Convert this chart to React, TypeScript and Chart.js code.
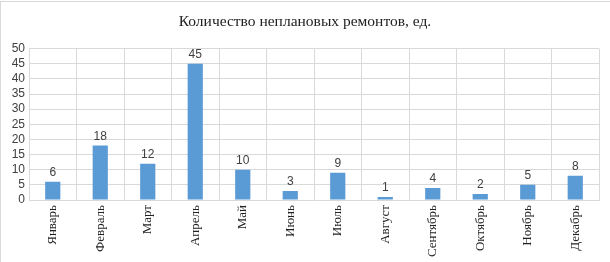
import React, { useEffect, useRef } from "react";
import { Chart, registerables } from "chart.js";

Chart.register(...registerables);

const months = ["Январь", "Февраль", "Март", "Апрель", "Май", "Июнь", "Июль", "Август", "Сентябрь", "Октябрь", "Ноябрь", "Декабрь"];
const repairs = [6, 18, 12, 45, 10, 3, 9, 1, 4, 2, 5, 8];
const yMin = 0;
const yMax = 50;
const yStep = 5;
const titleText = "Количество неплановых ремонтов, ед.";

const labelPlugin = {
  id: "barLabels",
  afterDatasetsDraw(chart: any) {
    const ctx = chart.ctx;
    const meta = chart.getDatasetMeta(0);
    ctx.save();
    ctx.font = "12px 'Liberation Sans', Arial, sans-serif";
    ctx.fillStyle = "#404040";
    ctx.textAlign = "center";
    ctx.textBaseline = "bottom";
    meta.data.forEach((el: any, i: number) => {
      ctx.fillText(String(chart.data.datasets[0].data[i]), el.x, el.y - 3);
    });
    ctx.restore();
  },
};

export default function App() {
  const ref = useRef<HTMLCanvasElement | null>(null);
  useEffect(() => {
    document.body.style.margin = "0";
    const chart = new Chart(ref.current!, {
      type: "bar",
      data: {
        labels: months,
        datasets: [
          {
            data: repairs,
            backgroundColor: "#5B9BD5",
            barPercentage: 0.32,
            categoryPercentage: 1,
          },
        ],
      },
      options: {
        animation: false,
        responsive: false,
        maintainAspectRatio: false,
        layout: { padding: { left: 11, right: 11, top: 0, bottom: 0 } },
        plugins: {
          legend: { display: false },
          tooltip: { enabled: false },
          title: {
            display: true,
            text: titleText,
            color: "#222",
            font: { family: "'Liberation Serif', 'Times New Roman', serif", size: 15.5, weight: "normal" },
            padding: { top: 13, bottom: 17 },
          },
        },
        scales: {
          x: {
            grid: { color: "#d9d9d9", drawTicks: false, offset: true },
            border: { color: "#d9d9d9" },
            ticks: {
              color: "#222",
              maxRotation: 90,
              minRotation: 90,
              autoSkip: false,
              padding: 5,
              font: { family: "'Liberation Serif', 'Times New Roman', serif", size: 13 },
            },
            afterFit: (s: any) => {
              s.height = 62;
            },
          },
          y: {
            min: yMin,
            max: yMax,
            grid: { color: "#d9d9d9", drawTicks: false },
            border: { color: "#d9d9d9" },
            ticks: {
              stepSize: yStep,
              autoSkip: false,
              color: "#404040",
              padding: 4,
              font: { family: "'Liberation Sans', Arial, sans-serif", size: 12 },
            },
            afterFit: (s: any) => {
              s.width = 18;
            },
          },
        },
      },
      plugins: [labelPlugin],
    });
    return () => chart.destroy();
  }, []);
  return (
    <div style={{ position: "relative", width: 610, height: 262, overflow: "hidden" }}>
      <canvas ref={ref} width={610} height={262} style={{ position: "absolute", left: 0, top: 0 }} />
      <div
        style={{
          position: "absolute",
          left: 0,
          top: 1,
          width: 620,
          height: 270,
          borderLeft: "1px solid #d9d9d9",
          borderTop: "1px solid #d9d9d9",
          pointerEvents: "none",
        }}
      />
    </div>
  );
}
